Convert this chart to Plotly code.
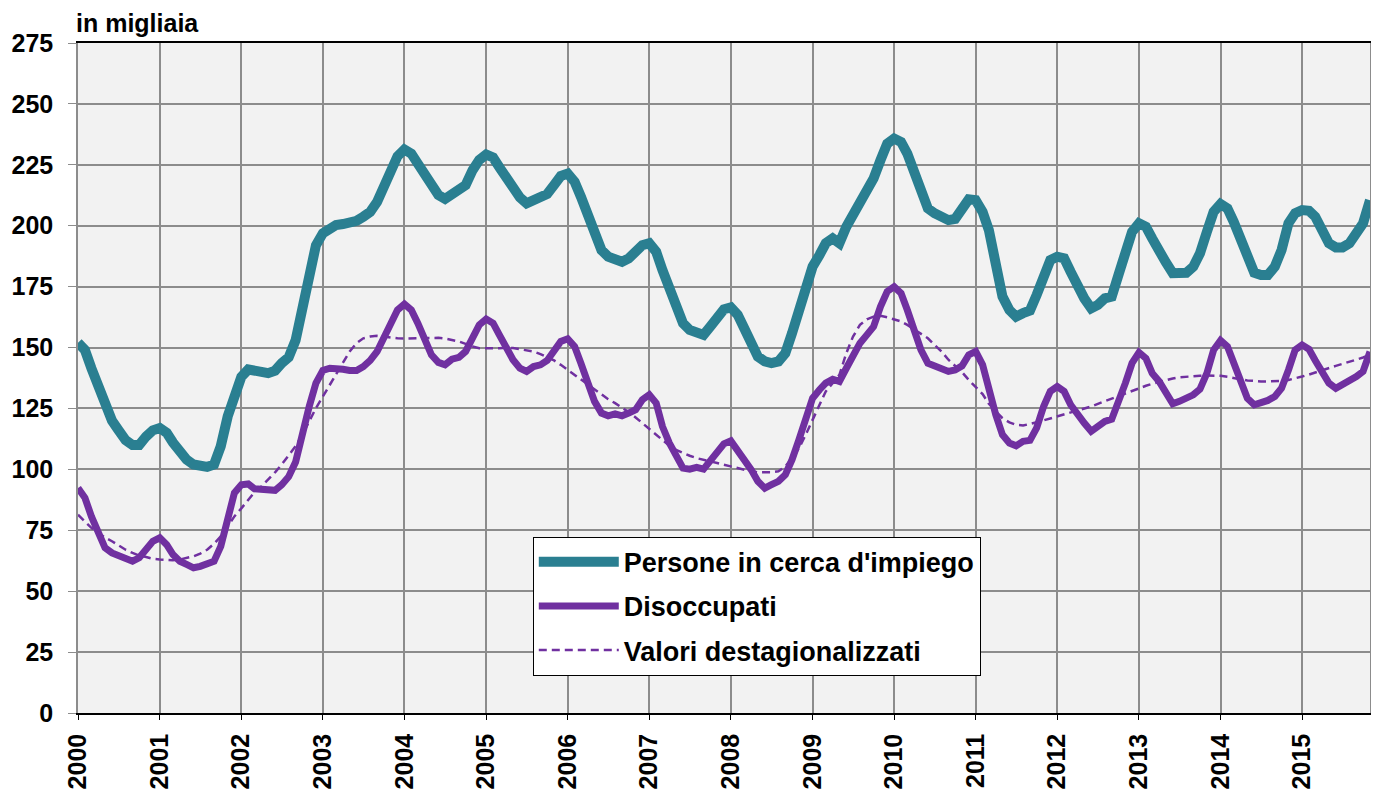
import pandas as pd
import plotly.graph_objects as go

# Monthly values, Jan 2000 - Nov 2015 (thousands)
persone = [
    152, 149, 141.5, 134, 126, 120, 116, 112, 110, 110, 113.5, 116,
    117, 115, 111, 106.7, 104, 102, 101, 101, 102, 109.5, 121.7, 130,
    138, 141, 141, 140, 139.5, 140.5, 143.6, 146, 153, 166.8, 181, 192,
    196.9, 199.3, 200.3, 200.7, 201.2, 202, 203.7, 205.7, 209.8, 216, 222.8, 228.5,
    231.3, 229.6, 225.5, 220.8, 216, 212.6, 211, 212.6, 214, 216.7, 222.8, 227,
    229.2, 228, 224, 219.4, 215, 211.6, 209.2, 210.5, 211.2, 213, 216.7, 220.4,
    221.4, 218, 211.9, 203.7, 196.2, 190, 187.3, 186.6, 185.2, 186.6, 189.3, 192,
    192.8, 189.3, 181.8, 174.3, 166.8, 160, 157.2, 156.1, 155.2, 158.6, 162.7, 165.7,
    166.5, 163.4, 157.9, 151.8, 146.3, 144.3, 143.6, 144.3, 147.7, 155.9, 165.4, 176.4,
    183.2, 188, 192.8, 194.8, 192.8, 199.6, 204.4, 209.2, 213.9, 219.4, 226.9, 233.7,
    235.8, 234.4, 229.6, 221.4, 213.3, 207.1, 205.1, 204, 202.3, 202.8, 207.1, 210.8,
    210.5, 205.7, 198.2, 181.8, 170.9, 165.4, 162.7, 164.1, 165.2, 171.6, 180.5, 185.9,
    187.3, 186.6, 181.1, 175, 170.2, 166.1, 167.5, 170.2, 170.9, 179.8, 190, 197.5,
    201, 199.6, 194.8, 190.7, 185, 180.5, 181.1, 180.7, 183.2, 188.7, 197.5, 205.7,
    208.9, 207.1, 201.6, 194.1, 185.9, 180.7, 179.8, 179.8, 183.2, 190, 201, 205.1,
    206.4, 206.1, 203.7, 198.9, 192.8, 191.1, 191.1, 192.8, 196.2, 201, 210.5,
]

disoccupati = [
    92.4, 88.3, 80.7, 74, 67.8, 65.7, 64.6, 63.3, 62.3, 63.7, 67, 70.5,
    71.9, 69.1, 65, 62.3, 61, 59.6, 60.2, 61.2, 62.3, 68.4, 79.4, 90.3,
    93.7, 94, 92, 91.7, 91, 91.4, 93.7, 97, 103, 115.6, 125.8, 135.4,
    140.6, 141.5, 141.5, 141.1, 140.6, 140.6, 142.2, 144.7, 148.4, 153.8, 160, 165.4,
    167.8, 165.4, 160, 153, 147, 143.9, 142.9, 145.2, 146, 148.4, 153.8, 159.3,
    161.7, 160, 155.2, 149.7, 145, 141.5, 140.2, 142.2, 142.9, 144.7, 148.4, 152.5,
    153.6, 150.4, 143.6, 135.4, 127.9, 123.1, 122, 122.8, 122, 123.1, 124.5, 128.6,
    130.6, 127.2, 117.6, 110.8, 105.3, 100.5, 100.1, 100.8, 100.1, 103.3, 106.7, 110.5,
    111.7, 108, 104, 99.9, 95.1, 92.3, 93.7, 95.1, 97.8, 104, 112.2, 121.7,
    129.2, 132.7, 135.4, 137, 136.1, 141.5, 147, 151.8, 155.2, 158.6, 166.8, 173,
    175, 172.3, 165.4, 157.2, 149, 143.6, 142.5, 141.5, 140.2, 140.8, 142.5, 147,
    148.4, 142.9, 132.7, 122.4, 114.2, 110.8, 109.7, 111.5, 111.9, 117, 125.8, 132,
    134, 132, 126.5, 122.4, 119, 115.6, 117.6, 119.7, 120.6, 127.2, 135.4, 143.6,
    148, 145.6, 139.5, 136.1, 131.2, 126.9, 127.9, 129.2, 130.6, 132.9, 139.5, 149,
    152.9, 150.4, 143.6, 136.1, 129.2, 126.5, 127.2, 128.3, 129.9, 133.3, 140.8, 149,
    151.1, 149.3, 144.7, 139.5, 135.4, 133.3, 134.7, 136.7, 138.1, 140.2, 148.3,
]

destag = [
    81.4, 78.7, 76, 74, 72, 70.5, 68.7, 67, 65.7, 64.6, 64, 63.3,
    63, 62.7, 62.7, 63, 63.7, 64.3, 65.4, 67, 69.5, 72.5, 76.6, 80.7,
    84, 87.6, 90.6, 93, 95.8, 98.8, 102, 106, 109.5, 114.2, 119.7, 125.1,
    129.9, 134.7, 138.8, 143.6, 148.4, 151.8, 153.8, 154.5, 154.8, 154.5, 154.1, 153.8,
    153.7, 153.8, 154, 154.1, 154.1, 154, 153.7, 153.1, 152.5, 151.5, 150.4, 149.7,
    149.6, 149.6, 149.7, 149.9, 149.8, 149.3, 149, 148.4, 147.3, 146, 144.7, 142.9,
    140.8, 138.8, 136.7, 134.7, 132.7, 130.6, 128.8, 127.2, 125.5, 123.5, 121.3, 119,
    116.5, 114.2, 111.9, 109.7, 108, 106.7, 105.6, 104.6, 104, 103.3, 102.6, 101.9,
    101.2, 100.5, 99.9, 99.2, 98.8, 98.8, 98.8, 99.2, 101.2, 104.6, 108.7, 114.2,
    120.4, 126.5, 132, 135.4, 138.8, 147.7, 154.5, 159.3, 161.6, 162.7, 163, 162.4,
    161.6, 160.7, 159.3, 157.5, 155.9, 153.8, 151.1, 148.4, 145, 142.5, 139.9, 136.7,
    134, 130.9, 126.9, 123.8, 121, 119.3, 118.3, 118, 118.6, 119.3, 120.1, 120.9,
    121.7, 122.4, 123.1, 123.9, 124.9, 125.8, 126.9, 128, 129.1, 130.2, 131.3, 132.4,
    133.3, 134.3, 135.1, 135.9, 136.7, 137.3, 137.8, 138.1, 138.3, 138.4, 138.5, 138.5,
    138.4, 138, 137.4, 136.9, 136.5, 136.2, 136.1, 136.1, 136.1, 136.3, 136.7, 137.3,
    138.1, 138.9, 139.8, 140.8, 141.7, 142.5, 143.3, 144.1, 144.9, 145.9, 147,
]

years = [str(y) for y in range(2000, 2016)]
dates = pd.date_range("2000-01-01", periods=len(persone), freq="MS")
year_ticks = [f"{y}-01-01" for y in years]
y_ticks = list(range(0, 276, 25))

TEAL = "#2A7F91"
PURPLE = "#7030A0"
GRID = "#8C8C8C"
FONT = "Liberation Sans, Arial, sans-serif"

fig = go.Figure()
fig.add_trace(go.Scatter(x=dates, y=persone, mode="lines", name="Persone in cerca d'impiego",
                         legendgroup="a", line=dict(color=TEAL, width=10)))
fig.add_trace(go.Scatter(x=dates, y=disoccupati, mode="lines", name="Disoccupati",
                         legendgroup="b", line=dict(color=PURPLE, width=7)))
fig.add_trace(go.Scatter(x=dates, y=destag, mode="lines", name="Valori destagionalizzati",
                         legendgroup="c", line=dict(color=PURPLE, width=2.5, dash="8px,5px")))

# page body has an 8px margin: figure is sized/margined so the plot area sits at
# x 78..1370, y 43..713 in the browser window
fig.update_layout(
    width=1371, height=786,
    margin=dict(l=70, r=9, t=35, b=81, autoexpand=False),
    paper_bgcolor="white",
    plot_bgcolor="#F2F2F2",
    font=dict(family=FONT, size=25, color="black", weight="bold"),
    showlegend=True,
    legend=dict(
        x=0.352, y=0.263, xanchor="left", yanchor="top",
        bgcolor="white", bordercolor="black", borderwidth=1,
        font=dict(family=FONT, size=27, color="black", weight="bold"),
        itemwidth=80, tracegroupgap=6,
    ),
    annotations=[dict(
        text="in migliaia", xref="paper", yref="paper", x=0, y=1,
        xanchor="left", yanchor="bottom", yshift=5, xshift=-3, showarrow=False,
        borderpad=0,
        font=dict(family=FONT, size=25, color="black", weight="bold"),
    )],
)

fig.update_xaxes(
    type="date", automargin=False,
    range=[dates[0], dates[-1]],
    tickvals=year_ticks, ticktext=years, tickangle=-90,
    showgrid=True, gridcolor=GRID, gridwidth=1.5,
    showline=True, linecolor="black", linewidth=1.5, mirror=True,
    ticks="outside", ticklen=5, tickcolor="black", ticklabelstandoff=4,
    tickfont=dict(family=FONT, size=25, color="black", weight="bold"),
    zeroline=False,
)
fig.update_yaxes(
    automargin=False,
    range=[0, 275], tickvals=y_ticks,
    showgrid=True, gridcolor=GRID, gridwidth=1.5,
    showline=True, linecolor=GRID, linewidth=1.5, mirror=True,
    ticks="outside", ticklen=8, tickcolor=GRID, ticklabelstandoff=10,
    tickfont=dict(family=FONT, size=25, color="black", weight="bold"),
    zeroline=False,
)

fig.write_html("out.html")
